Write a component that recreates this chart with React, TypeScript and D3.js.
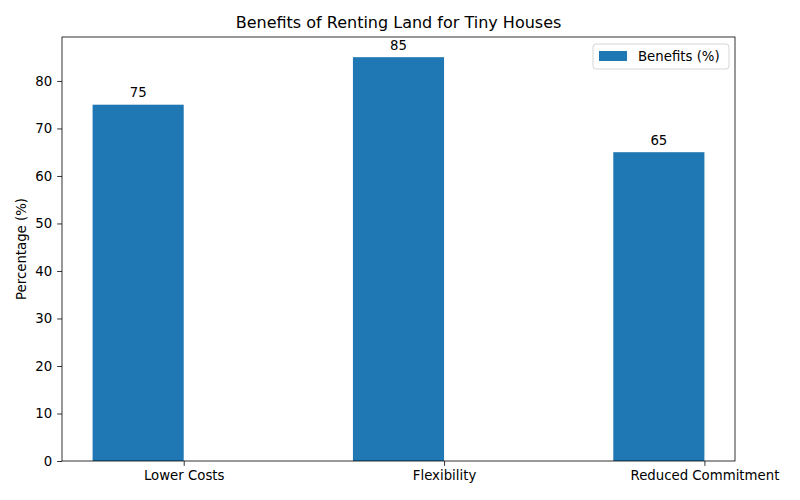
import React, { useEffect, useRef } from 'react';
import * as d3 from 'd3';

const categories = ['Lower Costs', 'Flexibility', 'Reduced Commitment'];
const benefits = [75, 85, 65];
const yTicks = [0, 10, 20, 30, 40, 50, 60, 70, 80];
const seriesName = 'Benefits (%)';

const App = () => {
    const svgRef = useRef<SVGSVGElement>(null);

    useEffect(() => {
        const svg = d3.select(svgRef.current);
        svg.selectAll('*').remove();
        const font = 'DejaVu Sans, sans-serif';
        const margin = { top: 37, right: 65, bottom: 39, left: 62 };
        const width = 800 - margin.left - margin.right;
        const height = 500 - margin.top - margin.bottom;
        const barW = 0.35;

        const x = d3.scaleLinear().domain([-barW - 0.1175, 2 + 0.1175]).range([0, width]);
        const y = d3.scaleLinear().domain([0, 85 * 1.05]).range([height, 0]);

        svg.append('rect').attr('width', 800).attr('height', 500).attr('fill', '#fff');
        const g = svg.append('g').attr('transform', `translate(${margin.left},${margin.top})`);

        // bars sit left of the tick (grouped layout with one series)
        benefits.forEach((v, i) => {
            g.append('rect')
                .attr('x', x(i - barW))
                .attr('y', y(v))
                .attr('width', x(i) - x(i - barW))
                .attr('height', y(0) - y(v))
                .attr('fill', '#1f77b4');
            g.append('text')
                .attr('x', x(i - barW / 2))
                .attr('y', y(v) - 7.5)
                .attr('text-anchor', 'middle')
                .attr('font-family', font)
                .attr('font-size', 13.3)
                .text(v);
        });

        const yAxis = g.append('g')
            .call(d3.axisLeft(y).tickValues(yTicks).tickSize(4.9).tickPadding(4.9));
        const xAxis = g.append('g')
            .attr('transform', `translate(0,${height})`)
            .call(d3.axisBottom(x).tickValues([0, 1, 2]).tickFormat((d) => categories[+d]).tickSize(4.9).tickPadding(4.9));
        [yAxis, xAxis].forEach(a => {
            a.select('.domain').remove();
            a.selectAll('text').attr('font-family', font).attr('font-size', 13.3).attr('fill', '#000');
            a.selectAll('line').attr('stroke', '#000').attr('stroke-width', 0.8);
        });

        g.append('rect')
            .attr('width', width).attr('height', height)
            .attr('fill', 'none').attr('stroke', '#000').attr('stroke-width', 0.8);

        svg.append('text')
            .attr('x', margin.left + width / 2)
            .attr('y', margin.top - 9)
            .attr('text-anchor', 'middle')
            .attr('font-family', font)
            .attr('font-size', 16)
            .text('Benefits of Renting Land for Tiny Houses');

        svg.append('text')
            .attr('transform', `translate(26,${margin.top + height / 2}) rotate(-90)`)
            .attr('text-anchor', 'middle')
            .attr('font-family', font)
            .attr('font-size', 13.3)
            .text('Percentage (%)');

        // legend
        const lg = svg.append('g').attr('transform', `translate(${margin.left + width - 142},${margin.top + 7})`);
        lg.append('rect')
            .attr('width', 136).attr('height', 25).attr('rx', 3)
            .attr('fill', '#fff').attr('fill-opacity', 0.8)
            .attr('stroke', '#ccc').attr('stroke-width', 0.8);
        lg.append('rect').attr('x', 6).attr('y', 7).attr('width', 28).attr('height', 10).attr('fill', '#1f77b4');
        lg.append('text')
            .attr('x', 45).attr('y', 17)
            .attr('font-family', font)
            .attr('font-size', 13.3)
            .text(seriesName);
    }, []);

    return <svg ref={svgRef} width={800} height={500} style={{ position: 'absolute', left: 0, top: 0 }} />;
};

export default App;
